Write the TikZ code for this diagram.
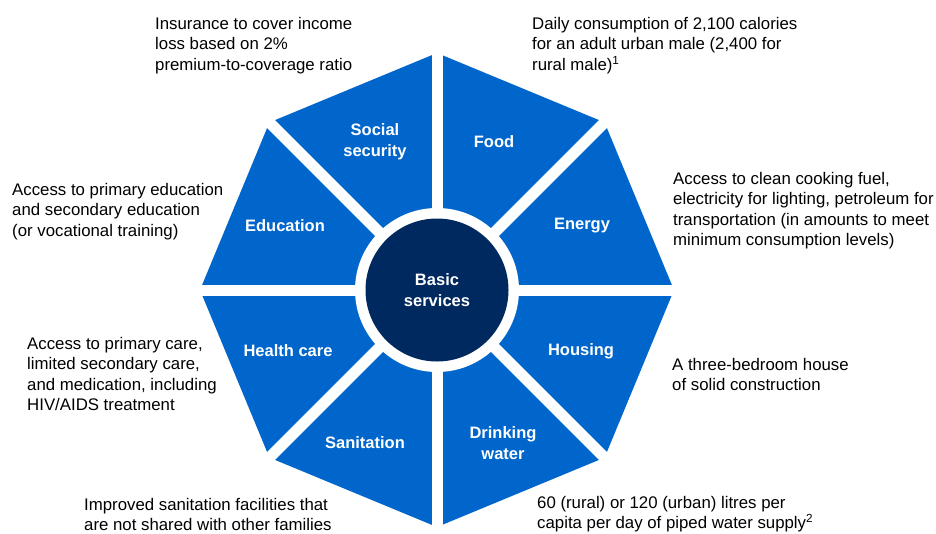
\documentclass[tikz,border=0pt]{standalone}
\usepackage{fontspec}
\setmainfont{Liberation Sans}
\definecolor{segblue}{RGB}{0,102,204}
\definecolor{hubnavy}{RGB}{0,41,96}

\begin{document}
\begin{tikzpicture}[x=1pt,y=-1pt]
  \tikzset{
    wheelstyles/.style = {
      shift={(hub)},
    },
    seglabel/.style = {text=white, align=center, inner sep=0pt,
      font=\fontsize{16.5}{21}\selectfont\bfseries},
    notetext/.style = {anchor=north west, inner sep=0pt, align=left,
      font=\fontsize{16.8}{20.5}\selectfont}, % top of node = top of first line
  }
  \useasboundingbox (0,0) rectangle (936,533);
  \coordinate (hub) at (437,290);

  % octagon, then white spokes cut it into eight pieces
  \fill[segblue, wheelstyles]
  (0:237) -- (45:237) -- (90:237) -- (135:237) -- (180:237)
  -- (225:237) -- (270:237) -- (315:237) -- cycle;
  \foreach \a in {0,45,90,135}
  \draw[white, line width=11pt, wheelstyles] (\a:250) -- (\a+180:250);
  \fill[white] (hub) circle (82pt);
  \node[circle, fill=hubnavy, minimum size=143pt, seglabel] (basic) at (hub)
  {Basic\\services};

  % labels on the pieces
  \foreach \n/\x/\y/\t in {social/375/141.5/{Social\\security},
    food/494/142/Food, energy/582/226/Energy, housing/581/351/Housing,
    water/503/443.5/{Drinking\\water}, sanitation/365/443/Sanitation,
    health/288/351/Health care, education/285/226/Education}
  \node[seglabel] (\n) at (\x,\y) {\t};

  % notes round the wheel
  \node[notetext] (socialnote) at (155,17)
  {Insurance to cover income\\loss based on 2\%\\premium-to-coverage ratio};
  \node[notetext] (foodnote) at (532,17)
  {Daily consumption of 2,100 calories\\for an adult urban male (2,400 for\\rural male)\textsuperscript{1}};
  \node[notetext] (energynote) at (673,172)
  {Access to clean cooking fuel,\\electricity for lighting, petroleum for\\transportation (in amounts to meet\\minimum consumption levels)};
  \node[notetext] (educationnote) at (12,183)
  {Access to primary education\\and secondary education\\(or vocational training)};
  \node[notetext] (housingnote) at (672,358)
  {A three-bedroom house\\of solid construction};
  \node[notetext] (healthnote) at (27,337)
  {Access to primary care,\\limited secondary care,\\and medication, including\\HIV/AIDS treatment};
  \node[notetext] (sanitationnote) at (84,498)
  {Improved sanitation facilities that\\are not shared with other families};
  \node[notetext] (waternote) at (537,496)
  {60 (rural) or 120 (urban) litres per\\capita per day of piped water supply\textsuperscript{2}};
\end{tikzpicture}
\end{document}
